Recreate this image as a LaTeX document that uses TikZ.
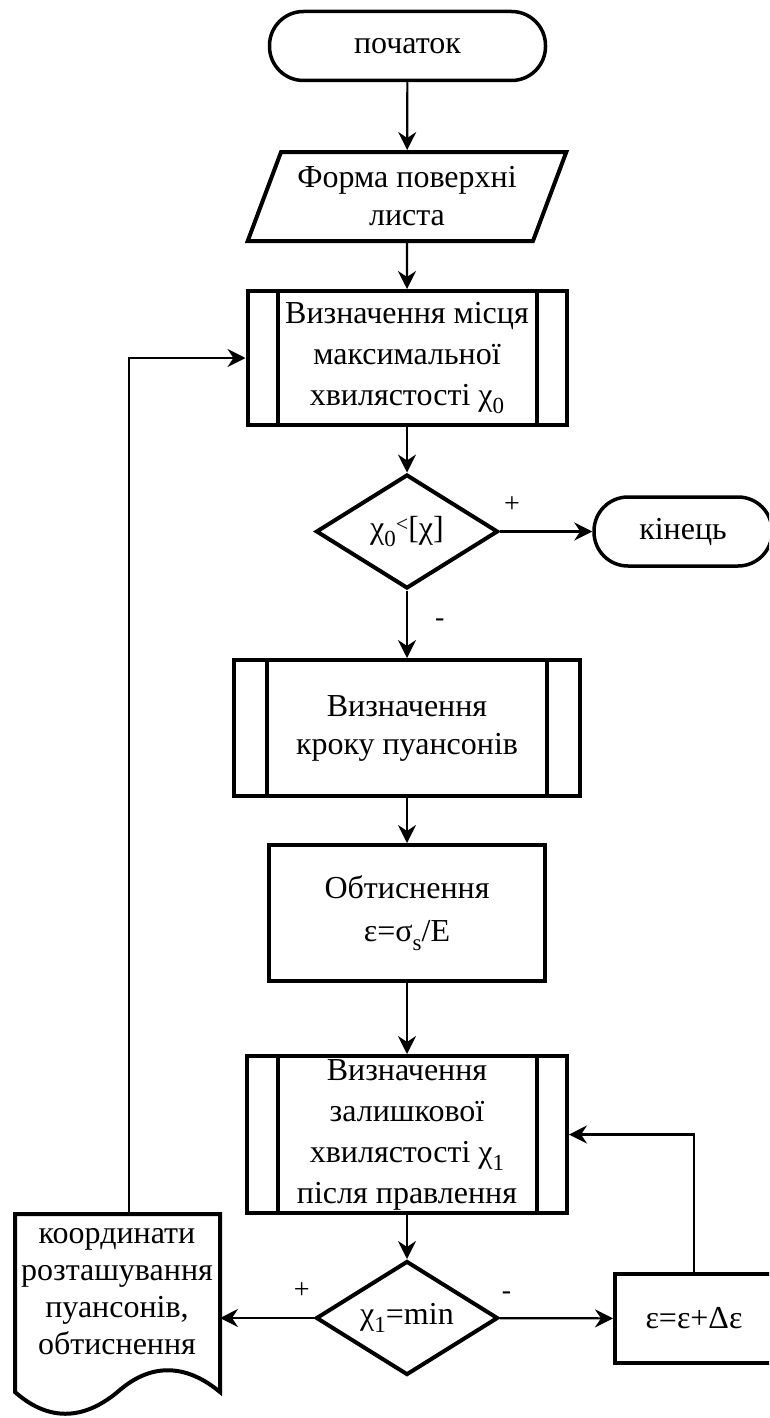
\documentclass[tikz,border=0pt]{standalone}
\usepackage{fontspec}
\setmainfont{Liberation Serif}
\usetikzlibrary{shapes.geometric,arrows.meta}

\newcommand{\lowsub}[1]{\raisebox{-0.27em}{\fontsize{23}{23}\selectfont #1}}
\newcommand{\smallless}{\raisebox{0.2em}{\fontsize{22}{22}\selectfont<}}

\tikzset{
  term/.style={draw,line width=3.5pt,rounded corners=34pt,minimum height=69pt,inner sep=0pt},
  proc/.style={draw,line width=4pt,align=center,inner sep=0pt},
  decide/.style={draw,diamond,line width=4pt,aspect=1.6,inner sep=0pt,minimum width=182pt,minimum height=114pt},
  flow/.style={line width=2.2pt,-{Stealth[length=18pt,width=18pt,inset=6pt]}},
  sign/.style={font=\fontsize{28}{28}\selectfont,inner sep=0pt},
}

\begin{document}
\begin{tikzpicture}[x=1pt,y=-1pt,font=\fontsize{32}{40}\selectfont]

\useasboundingbox (0,0) rectangle (769,1418);
\clip (0,0) rectangle (769,1418);

\node[term,minimum width=276pt] (start) at (407.5,46) {початок};
\node[draw,trapezium,trapezium left angle=64,trapezium right angle=116,trapezium stretches=true,line width=4pt,minimum width=319pt,minimum height=89pt,inner sep=0pt,align=center,font=\fontsize{32}{38}\selectfont] (form) at (407,196.5) {Форма поверхні\\листа};
\node[proc,minimum width=319pt,minimum height=134pt,font=\fontsize{32}{41}\selectfont] (p1) at (407,358) {Визначення місця\\максимальної\\хвилястості χ\lowsub{0}};
\node[decide] (d1) at (407,531.5) {χ\lowsub{0}\smallless[χ]};
\node[term,minimum width=178pt] (stop) at (683,531.5) {кінець};
\node[proc,minimum width=346pt,minimum height=136pt,font=\fontsize{32}{38}\selectfont] (p2) at (407,728) {Визначення\\кроку пуансонів};
\node[proc,minimum width=276pt,minimum height=136pt,font=\fontsize{32}{43}\selectfont] (obt) at (407,913) {Обтиснення\\ε=σ\lowsub{s}/E};
\node[proc,minimum width=320pt,minimum height=157pt,font=\fontsize{32}{41}\selectfont] (p3) at (407,1134.5) {Визначення\\залишкової\\хвилястості χ\lowsub{1}\\після правлення};
\node[decide] (d2) at (407,1318) {χ\lowsub{1}=min};
\node[proc,minimum width=158pt,minimum height=89pt] (eps) at (694,1318.5) {ε=ε+Δε};
\node[minimum width=205pt,minimum height=178pt,outer sep=0pt] (doc) at (117.5,1303) {};
\node[align=center,inner sep=0pt,font=\fontsize{32}{37}\selectfont] (doctext) at (117,1292) {координати\\розташування\\пуансонів,\\обтиснення};

% side bars of the predefined processes
\draw[line width=4pt] ([xshift=32pt]p1.north west) -- ([xshift=32pt]p1.south west);
\draw[line width=4pt] ([xshift=-32pt]p1.north east) -- ([xshift=-32pt]p1.south east);
\draw[line width=4pt] ([xshift=35pt]p2.north west) -- ([xshift=35pt]p2.south west);
\draw[line width=4pt] ([xshift=-35pt]p2.north east) -- ([xshift=-35pt]p2.south east);
\draw[line width=4pt] ([xshift=33pt]p3.north west) -- ([xshift=33pt]p3.south west);
\draw[line width=4pt] ([xshift=-32pt]p3.north east) -- ([xshift=-32pt]p3.south east);

% document outline
\draw[line width=4pt] (doc.south west) -- (doc.north west) -- (doc.north east) -- (doc.south east)
  .. controls (185,1363) and (150,1363) .. (117.5,1392)
  .. controls (82.5,1421) and (47.7,1421) .. (doc.south west) -- cycle;

\draw[flow] (start) -- (form);
\draw[flow] (form) -- (p1);
\draw[flow] (p1) -- (d1);
\draw[flow] (d1) -- node[sign,pos=0.13,above=18pt] {+} (stop);
\draw[flow] (d1) -- node[sign,pos=0.47,right=27pt] {-} (p2);
\draw[flow] (p2) -- (obt);
\draw[flow] (obt) -- (p3);
\draw[flow] (p3) -- (d2);
\draw[flow] (d2) -- node[sign,pos=0.13,above=18pt] {+} (d2.west -| doc.east);
\draw[flow] (d2) -- node[sign,pos=0.06,above=18pt] {-} (eps);

% loops back
\draw[flow] (eps) -- (eps |- p3.east) -- (p3);
\coordinate (up) at ([xshift=11.5pt]doc.north);
\draw[flow] (up) -- (up |- p1.west) -- (p1);

\end{tikzpicture}
\end{document}
